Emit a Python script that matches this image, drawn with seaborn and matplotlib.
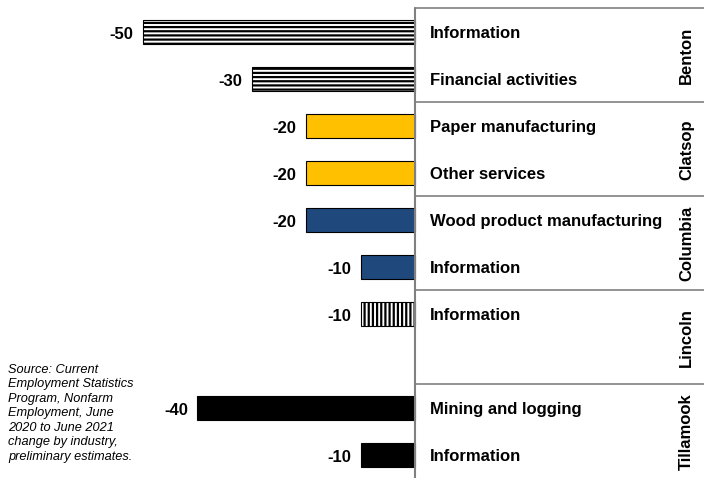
import numpy as np
import pandas as pd
import matplotlib
matplotlib.use('Agg')
import matplotlib.pyplot as plt
import seaborn as sns

# county / industry change, June 2020 to June 2021
counties = ['Benton', 'Benton', 'Clatsop', 'Clatsop', 'Columbia', 'Columbia',
            'Lincoln', 'Lincoln', 'Tillamook', 'Tillamook']
industries = ['Information', 'Financial activities', 'Paper manufacturing', 'Other services',
              'Wood product manufacturing', 'Information', 'Information', '',
              'Mining and logging', 'Information']
changes = [-50, -30, -20, -20, -20, -10, -10, np.nan, -40, -10]
county_order = ['Benton', 'Clatsop', 'Columbia', 'Lincoln', 'Tillamook']
source_note = ('Source: Current\nEmployment Statistics\nProgram, Nonfarm\nEmployment, June\n'
               '2020 to June 2021\nchange by industry,\npreliminary estimates.')

palette = {'Benton': 'white', 'Clatsop': '#FFC000', 'Columbia': '#1F497D',
           'Lincoln': 'white', 'Tillamook': 'black'}
hatches = {'Benton': '----', 'Lincoln': '||||'}

df = pd.DataFrame({'county': counties, 'industry': industries, 'change': changes})
df['row'] = np.arange(len(df))

sns.set_theme(style='white')
plt.rcParams['font.family'] = ['Liberation Sans', 'DejaVu Sans']
plt.rcParams['text.color'] = 'black'
plt.rcParams['hatch.linewidth'] = 1.6

fig = plt.figure(figsize=(7.04, 4.78), dpi=100)
ax = fig.add_axes([0, 0, 1, 1])

sns.barplot(data=df.dropna(), x='change', y='row', hue='county', palette=palette,
            orient='h', native_scale=True, dodge=False, width=0.53, legend=False,
            saturation=1, edgecolor='black', linewidth=0.8, ax=ax)

# hatch patterns for the white bars
for p in ax.patches:
    i = int(round(p.get_y() + p.get_height() / 2))
    c = df.loc[i, 'county']
    if c in hatches:
        p.set_hatch(hatches[c])
        p.set_edgecolor('black')
        if hasattr(p, 'set_hatch_linewidth'):
            p.set_hatch_linewidth(1.6)
    p.set_linewidth(0.8)

ax.set_xlim(-76.3, 53.1)
ax.set_ylim(9.49, -0.68)
ax.axis('off')

# value labels
for _, r in df.dropna().iterrows():
    ax.annotate(f"{int(r['change'])}", xy=(r['change'], r['row']), xytext=(-7, -1.5),
                textcoords='offset points', ha='right', va='center',
                fontsize=12, fontweight='bold')

# industry labels
for _, r in df.iterrows():
    ax.text(2.8, r['row'] + 0.03, r['industry'], ha='left', va='center',
            fontsize=12, fontweight='bold')

# county boxes
ax.plot([0, 0], [-0.5, 9.6], color='#808080', lw=1.5, clip_on=False)
for k, c in enumerate(county_order):
    top = 2 * k - 0.5
    ax.plot([0, 60], [top, top], color='#808080', lw=1.2, clip_on=False)
    ax.text(49.9, top + 1.0, c, rotation=90, ha='center', va='center',
            fontsize=12, fontweight='bold')

fig.text(8 / 704, 1 - 364 / 478, source_note, ha='left', va='top',
         fontsize=9.2, style='italic', linespacing=1.27)

fig.savefig('out.png', dpi=100)
